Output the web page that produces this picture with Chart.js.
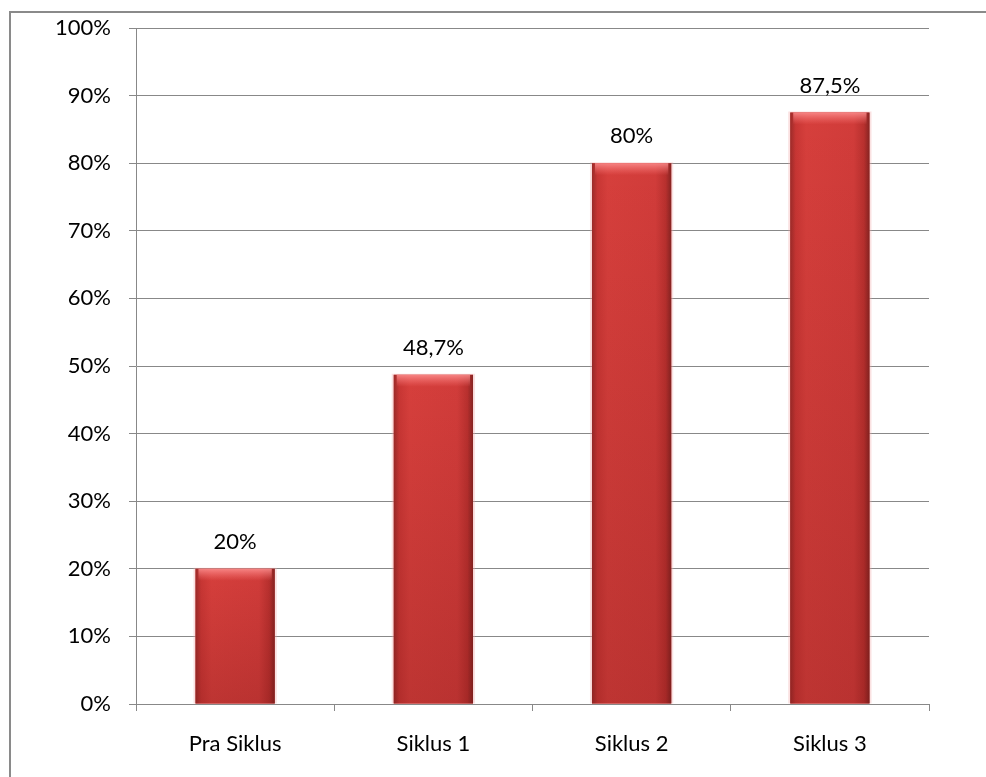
<!DOCTYPE html>
<html>
<head>
<meta charset="utf-8">
<script src="https://cdn.jsdelivr.net/npm/chart.js@4/dist/chart.umd.min.js"></script>
<style>
  html, body { margin: 0; padding: 0; background: #fff; }
  #wrap { position: relative; width: 986px; height: 777px; overflow: hidden; }
  #frame { position: absolute; left: 9px; top: 11px; width: 1000px; height: 800px;
           border-top: 2px solid #8a8a8a; border-left: 2px solid #8a8a8a; box-sizing: border-box; }
  canvas { position: absolute; left: 0; top: 0; }
</style>
</head>
<body>
<div id="wrap">
  <div id="frame"></div>
  <canvas id="c" width="986" height="777"></canvas>
</div>
<script>
// Percentages per cycle
const categories = ['Pra Siklus', 'Siklus 1', 'Siklus 2', 'Siklus 3'];
const values = [20, 48.7, 80, 87.5];
const valueLabels = ['20%', '48,7%', '80%', '87,5%'];
const yTicks = [0, 10, 20, 30, 40, 50, 60, 70, 80, 90, 100];

const FONT = 'Lato, "Open Sans", "Liberation Sans", sans-serif';

// Bevelled red shading painted over each bar from its final geometry
const bevelBars = {
  id: 'bevelBars',
  afterDatasetsDraw(chart) {
    const ctx = chart.ctx;
    ctx.save();
    chart.getDatasetMeta(0).data.forEach((bar, i) => {
      const left = bar.x - bar.width / 2, w = bar.width;
      const top = bar.y, h = bar.base - bar.y;
      // soft pink halo
      ctx.fillStyle = 'rgba(240,170,170,0.35)';
      ctx.fillRect(left - 2, top - 1, w + 4, h + 1);
      // horizontal bevel
      const g = ctx.createLinearGradient(left, 0, left + w, 0);
      g.addColorStop(0, '#9c2b29');
      g.addColorStop(0.07, '#c83634');
      g.addColorStop(0.2, '#d63f3c');
      g.addColorStop(0.8, '#d13c3a');
      g.addColorStop(0.93, '#b8302e');
      g.addColorStop(1, '#862422');
      ctx.fillStyle = g;
      ctx.fillRect(left, top, w, h);
      // darker toward the bottom
      const v = ctx.createLinearGradient(0, top, 0, bar.base);
      v.addColorStop(0, 'rgba(90,10,10,0.0)');
      v.addColorStop(1, 'rgba(90,10,10,0.2)');
      ctx.fillStyle = v;
      ctx.fillRect(left, top, w, h);
      // light top edge
      const t = ctx.createLinearGradient(0, top, 0, top + 12);
      t.addColorStop(0, 'rgba(255,150,150,0.8)');
      t.addColorStop(1, 'rgba(255,120,120,0)');
      ctx.fillStyle = t;
      ctx.fillRect(left + 3, top, w - 6, 12);
      // value label above the bar
      ctx.fillStyle = '#000';
      ctx.font = '22px ' + FONT;
      ctx.textAlign = 'center';
      ctx.textBaseline = 'middle';
      ctx.fillText(valueLabels[i], bar.x, top - 27);
    });
    ctx.restore();
  }
};

new Chart(document.getElementById('c'), {
  type: 'bar',
  data: {
    labels: categories,
    datasets: [{
      data: values,
      backgroundColor: '#d03c3a',
      borderWidth: 0,
      barPercentage: 0.4,
      categoryPercentage: 1.0
    }]
  },
  options: {
    responsive: false,
    animation: false,
    events: [],
    layout: { padding: { left: 0, top: 28, right: 57, bottom: 0 } },
    plugins: { legend: { display: false }, tooltip: { enabled: false } },
    scales: {
      x: {
        grid: { display: true, drawOnChartArea: false, drawTicks: true, tickLength: 7,
                color: '#888', lineWidth: 1, offset: true },
        border: { display: true, color: '#888', width: 1 },
        ticks: { color: '#000', font: { family: FONT, size: 22 }, padding: 20 },
        afterFit(scale) { scale.height = 73; scale.paddingLeft = 0; scale.paddingRight = 0; }
      },
      y: {
        min: 0, max: 100,
        afterBuildTicks(scale) { scale.ticks = yTicks.map(v => ({ value: v })); },
        grid: { color: '#888', lineWidth: 1, tickLength: 7, drawTicks: true },
        border: { display: true, color: '#888', width: 1 },
        ticks: { color: '#000', font: { family: FONT, size: 22 }, padding: 18,
                 callback: v => v + '%' },
        afterFit(scale) { scale.width = 136; scale.paddingTop = 0; scale.paddingBottom = 0; }
      }
    }
  },
  plugins: [bevelBars]
});
</script>
</body>
</html>
